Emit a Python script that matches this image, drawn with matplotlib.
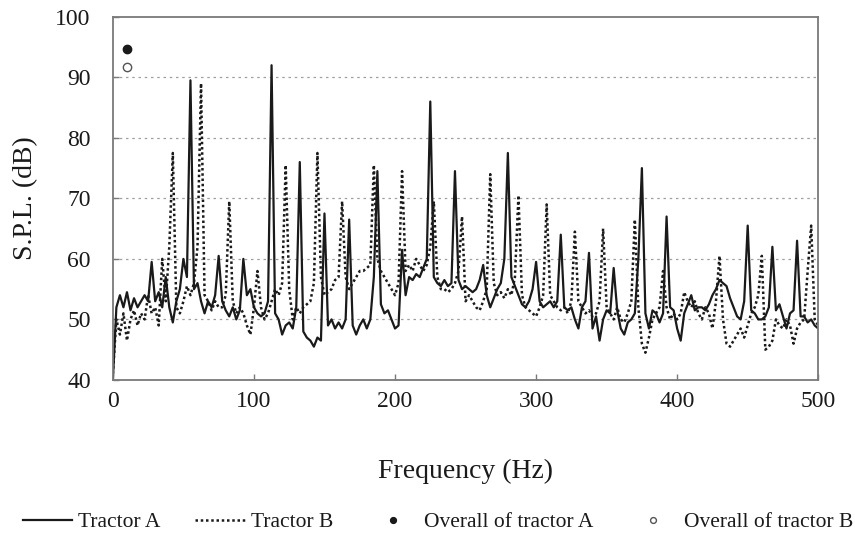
import matplotlib
matplotlib.use('Agg')
import matplotlib.pyplot as plt
import numpy as np

plt.rcParams['font.family'] = ['Liberation Serif', 'DejaVu Serif']

# ── Data (S.P.L. in dB, read every 2.5 Hz from 0 to 500 Hz) ──
freq = np.linspace(0, 500, 201)

tractor_a = [
    40, 52, 54, 52, 54.5, 51.5, 53.5, 52, 53, 54,            # 0 - 22.5
    53, 59.5, 53, 54.5, 52, 57, 52, 49.5, 53, 55,            # 25 - 47.5
    60, 57, 89.5, 55, 56, 53, 51, 53, 52, 54,                # 50 - 72.5
    60.5, 53, 51.5, 50.5, 52, 50, 51.5, 60, 54, 55,          # 75 - 97.5
    52, 51, 50.5, 51, 53, 92, 51, 50, 47.5, 49,              # 100 - 122.5
    49.5, 48.5, 52, 76, 48, 47, 46.5, 45.5, 47, 46.5,        # 125 - 147.5
    67.5, 49, 50, 48.5, 49.5, 48.5, 50, 66.5, 49, 47.5,      # 150 - 172.5
    49, 50, 48.5, 50, 57, 74.5, 52.5, 51, 51.5, 50,          # 175 - 197.5
    48.5, 49, 61.5, 54, 57, 56.5, 57.5, 57, 58.5, 60,        # 200 - 222.5
    86, 57, 56, 55.5, 56.5, 55.5, 56, 74.5, 56.5, 55,        # 225 - 247.5
    55.5, 55, 54.5, 55, 56.5, 59, 54, 52, 53.5, 55,          # 250 - 272.5
    56, 60, 77.5, 57, 55.5, 54, 52.5, 52, 53, 55,            # 275 - 297.5
    59.5, 53, 52, 52.5, 53, 52, 53, 64, 52, 51.5,            # 300 - 322.5
    52, 50, 48.5, 52, 53, 61, 48.5, 50.5, 46.5, 50,          # 325 - 347.5
    51.5, 51, 58.5, 51.5, 48.5, 47.5, 49.5, 50, 51, 60,      # 350 - 372.5
    75, 51, 48.5, 51.5, 51, 49.5, 51, 67, 52, 51.5,          # 375 - 397.5
    48.5, 46.5, 51, 52.5, 54, 51.5, 52, 52, 51.5, 52.5,      # 400 - 422.5
    54, 55, 56.5, 56, 55.5, 53.5, 52, 50.5, 50, 53,          # 425 - 447.5
    65.5, 51.5, 51, 50, 50, 50.5, 52, 62, 51.5, 52.5,        # 450 - 472.5
    50.5, 48.5, 51, 51.5, 63, 50.5, 50.5, 49.5, 50, 49,      # 475 - 497.5
    48.5,                                                    # 500
]

tractor_b = [
    41, 50, 47.5, 51, 46.5, 50, 51.5, 49, 51, 50,
    54, 51, 52, 49, 60, 53, 62, 77.5, 52, 51,
    53, 55.5, 54, 56, 62, 89, 54, 53, 51.5, 53,
    52, 52, 54, 69.5, 53, 51, 52, 51, 49, 47.5,
    52, 58, 52, 50, 51, 53, 55, 54, 56, 75.5,
    55, 50, 52, 51, 52, 52.5, 53, 56, 77.5, 57,
    54, 54.5, 55, 56.5, 57, 69.5, 57, 55, 56, 57,
    58, 58, 58.5, 59, 75.5, 60, 58, 57, 56, 55,
    54, 56, 74.5, 58, 59, 58, 60, 59, 58, 59,
    62, 69.5, 57, 55, 55, 54.5, 55, 56, 58, 67,
    53, 54, 53, 52, 51.5, 53, 55, 74, 56, 54,
    54.5, 53.5, 55, 54, 57, 70.5, 54, 52, 51.5, 51,
    50.5, 52, 54, 69, 54, 53, 52, 51.5, 52, 51,
    53, 64.5, 53, 52, 51, 51.5, 50.5, 51, 53, 65,
    52, 51, 50, 52, 50, 49.5, 51, 53, 66.5, 52,
    46, 44.5, 47, 50, 51, 52, 58, 52, 50, 51,
    50, 51, 54.5, 53, 52, 53, 51, 50, 52, 51,
    48.5, 53, 60.5, 50, 46, 45.5, 46.5, 47.5, 48.5, 47,
    49, 51, 52, 54, 60.5, 45, 45.5, 46.5, 50, 49,
    48.5, 50, 49, 46, 48.5, 49.5, 50, 58, 65.5, 50,
    49,
]

overall_freq = [10]
overall_a = [94.7]
overall_b = [91.7]

GRAY = '#7a7a7a'
INK = '#1a1a1a'

fig = plt.figure(figsize=(8.55, 5.42), dpi=100)
ax = fig.add_axes([0.132, 0.299, 0.825, 0.670])

ax.plot(freq, tractor_a, color=INK, lw=1.6, label='Tractor A')
ax.plot(freq, tractor_b, color=INK, lw=1.8, linestyle=(0, (1, 1.1)),
        label='Tractor B')
ax.plot(overall_freq, overall_a, 'o', color=INK, ms=6, ls='none',
        label='Overall of tractor A')
ax.plot(overall_freq, overall_b, 'o', mfc='white', mec='#555555', mew=1.0,
        ms=6, ls='none', label='Overall of tractor B')

ax.set_xlim(0, 500)
ax.set_ylim(40, 100)
ax.set_xticks(np.arange(0, 501, 100))
ax.set_yticks(np.arange(40, 101, 10))

for y in range(50, 100, 10):
    ax.axhline(y, color='#a0a0a0', lw=0.9, linestyle=(0, (2, 3)), zorder=0)

for s in ax.spines.values():
    s.set_color(GRAY)
    s.set_linewidth(1.3)

ax.tick_params(direction='in', length=4, width=1, color=GRAY,
               labelsize=17, labelcolor=INK)
ax.tick_params(axis='x', pad=8)
ax.tick_params(axis='y', pad=16)

ax.set_xlabel('Frequency (Hz)', fontsize=20, color=INK, labelpad=34)
ax.set_ylabel('S.P.L. (dB)', fontsize=20, color=INK, labelpad=12)

fig.legend(loc='center', bbox_to_anchor=(0.512, 1 - 522 / 542), ncol=4,
           frameon=False, fontsize=15.5, handlelength=2.3, handletextpad=0.3,
           columnspacing=1.6, markerscale=0.7, labelcolor=INK)

plt.savefig('out.png', dpi=100)
plt.close()
